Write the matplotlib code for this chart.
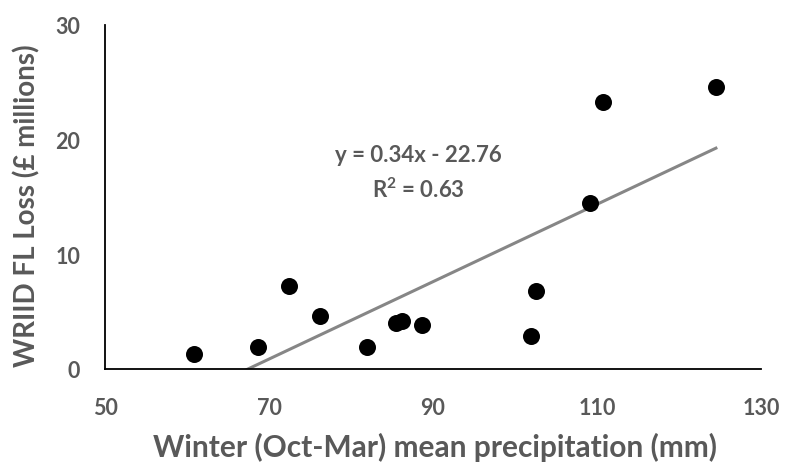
import numpy as np
import matplotlib
matplotlib.use("Agg")
import matplotlib.pyplot as plt

precip = [60.8, 68.6, 72.4, 76.2, 81.9, 85.5, 86.2, 88.7, 101.9, 102.5, 109.2, 110.7, 124.5]
loss = [1.3, 1.9, 7.2, 4.6, 1.9, 4.0, 4.2, 3.8, 2.9, 6.8, 14.5, 23.3, 24.6]
trend_slope = 0.3375
trend_intercept = -22.76
eq_text = "y = 0.34x - 22.76"
r2_text = "R$^\\mathbf{2}$ = 0.63"
xticks = [50, 70, 90, 110, 130]
yticks = [0, 10, 20, 30]

plt.rcParams['font.family'] = ['Lato', 'DejaVu Sans']
plt.rcParams['mathtext.fontset'] = 'custom'
plt.rcParams['mathtext.bf'] = 'Lato:bold'
plt.rcParams['mathtext.rm'] = 'Lato'
grey = '#595959'

fig = plt.figure(figsize=(7.86, 4.64), dpi=100)
ax = fig.add_axes([105/786, 1 - 370/464, (761 - 105)/786, (370 - 26)/464])

ax.scatter(precip, loss, s=150, color='black', zorder=3, linewidths=0)
xl = np.array([min(precip), max(precip)])
ax.plot(xl, trend_slope * xl + trend_intercept, color='#868686', lw=2.2, zorder=2)

ax.set_xlim(50, 130)
ax.set_ylim(0, 30)
ax.set_xticks(xticks)
ax.set_yticks(yticks)
ax.tick_params(length=0, labelsize=15.5, colors=grey)
ax.tick_params(axis='x', pad=20)
ax.tick_params(axis='y', pad=18)
for lab in ax.get_xticklabels() + ax.get_yticklabels():
    lab.set_fontweight('bold')
for s in ['top', 'right']:
    ax.spines[s].set_visible(False)
for s in ['left', 'bottom']:
    ax.spines[s].set_linewidth(1.3)
    ax.spines[s].set_color('black')

fig.text(435/786, 1 - 457/464, 'Winter (Oct-Mar) mean precipitation (mm)', ha='center', va='baseline',
         fontsize=21.5, fontweight='bold', color=grey)
fig.text(27/786, 1 - 206/464, 'WRIID FL Loss (£ millions)', ha='center', va='center', rotation=90,
         fontsize=20, fontweight='bold', color=grey)

ax.text(88.2, 18.7, eq_text, ha='center', va='center', fontsize=16, fontweight='bold', color=grey)
ax.text(88.2, 15.7, r2_text, ha='center', va='center', fontsize=16, fontweight='bold', color=grey)

fig.savefig('out.png', dpi=100)
